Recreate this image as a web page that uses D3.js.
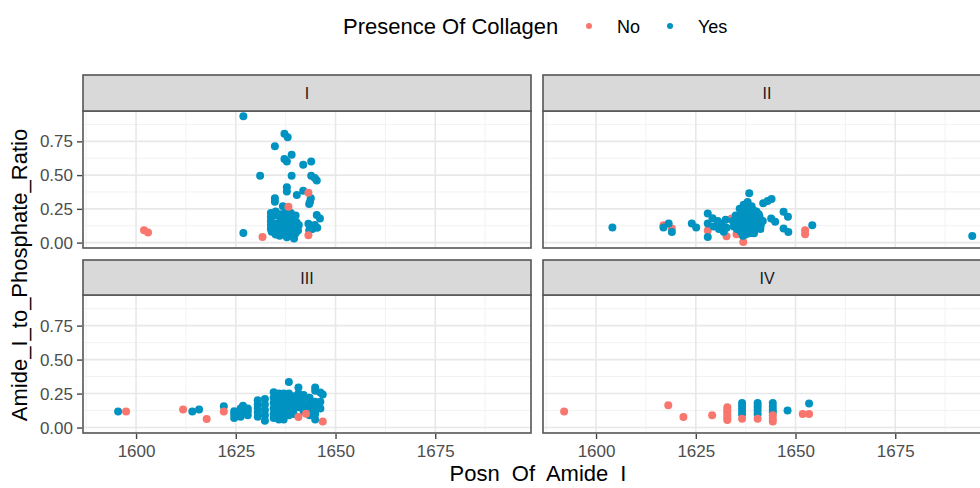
<!DOCTYPE html>
<html>
<head>
<meta charset="utf-8">
<script src="https://cdn.jsdelivr.net/npm/d3@7"></script>
<style>
  body { margin: 0; background: #fff; }
  text { font-family: "Liberation Sans", Arial, sans-serif; }
</style>
</head>
<body>
<div id="chart"></div>
<script>
// facet labels and axis ticks
var facets = ["I", "II", "III", "IV"];
var xTicks = [1600, 1625, 1650, 1675];
var yTicks = [0, 0.25, 0.5, 0.75];
var groups = ["No", "Yes"];

// [Posn Of Amide I, Amide_I_to_Phosphate_Ratio] per facet and collagen group
var noI = [[1602.0, 0.092], [1603.0, 0.075], [1631.7, 0.042], [1643.2, 0.054], [1643.2, 0.37],
  [1638.2, 0.266]];
var yesI = [[1626.9, 0.937], [1626.9, 0.072], [1637.2, 0.806], [1638.0, 0.781], [1634.8, 0.713],
  [1639.0, 0.651], [1637.2, 0.619], [1637.8, 0.601], [1641.9, 0.577], [1643.9, 0.601],
  [1631.1, 0.495], [1639.0, 0.495], [1643.9, 0.495], [1644.8, 0.478], [1645.3, 0.46],
  [1637.8, 0.41], [1637.8, 0.378], [1640.3, 0.353], [1641.9, 0.385], [1643.8, 0.328],
  [1643.6, 0.303], [1643.4, 0.286], [1634.8, 0.328], [1634.8, 0.303], [1636.8, 0.27],
  [1645.3, 0.204], [1646.1, 0.179],
  [1633.8, 0.22], [1633.8, 0.19], [1633.8, 0.16], [1633.8, 0.13], [1633.8, 0.10], [1634.0, 0.08],
  [1635.0, 0.23], [1635.0, 0.2], [1635.2, 0.14], [1635.2, 0.11], [1635.0, 0.06],
  [1636.3, 0.21], [1636.3, 0.17], [1636.5, 0.13], [1636.5, 0.09], [1636.0, 0.05],
  [1637.6, 0.24], [1637.6, 0.2], [1637.8, 0.16], [1637.8, 0.12], [1637.6, 0.08], [1637.8, 0.04],
  [1638.8, 0.22], [1638.8, 0.18], [1639.0, 0.14], [1639.0, 0.1], [1638.8, 0.06],
  [1640.0, 0.2], [1640.2, 0.15], [1640.2, 0.11], [1640.0, 0.07], [1639.6, 0.03],
  [1640.8, 0.13], [1640.6, 0.09],
  [1643.2, 0.14], [1643.6, 0.12], [1644.2, 0.1], [1644.8, 0.13], [1645.4, 0.11], [1643.4, 0.09]];

var noII = [[1616.9, 0.129], [1619.0, 0.104], [1628.0, 0.09], [1632.7, 0.047], [1634.0, 0.179],
  [1635.2, 0.062], [1636.9, 0.005], [1652.4, 0.092], [1652.4, 0.062]];
var yesII = [[1604.1, 0.112], [1618.2, 0.142], [1616.9, 0.112], [1619.0, 0.079], [1624.0, 0.142],
  [1625.1, 0.112], [1628.0, 0.216], [1628.0, 0.142], [1628.0, 0.042],
  [1629.2, 0.18], [1629.5, 0.12], [1630.5, 0.16], [1630.8, 0.1], [1631.5, 0.14], [1632.0, 0.08],
  [1632.5, 0.17], [1632.7, 0.11],
  [1634.5, 0.12], [1635.0, 0.2], [1635.3, 0.1], [1636.0, 0.25], [1636.0, 0.16], [1636.3, 0.08],
  [1637.0, 0.28], [1637.0, 0.21], [1637.2, 0.13], [1637.5, 0.06], [1638.0, 0.3], [1638.0, 0.24],
  [1638.2, 0.18], [1638.2, 0.11], [1638.5, 0.07], [1639.0, 0.27], [1639.2, 0.2], [1639.2, 0.14],
  [1639.5, 0.09], [1640.2, 0.23], [1640.2, 0.16], [1640.5, 0.11], [1641.0, 0.19], [1641.3, 0.13],
  [1641.8, 0.16], [1636.8, 0.05], [1634.3, 0.16],
  [1635.8, 0.19], [1635.6, 0.13], [1636.6, 0.22], [1636.8, 0.1], [1637.4, 0.17], [1637.8, 0.26],
  [1638.6, 0.21], [1638.8, 0.15], [1639.4, 0.24], [1639.8, 0.18], [1640.0, 0.12], [1640.8, 0.21],
  [1641.2, 0.1], [1637.2, 0.235], [1638.4, 0.09], [1639.6, 0.07], [1636.4, 0.14],
  [1638.4, 0.366], [1641.9, 0.291], [1643.0, 0.308], [1644.0, 0.323], [1647.0, 0.228],
  [1648.1, 0.191], [1643.9, 0.179], [1644.9, 0.154], [1647.0, 0.104], [1648.2, 0.079],
  [1654.2, 0.129], [1694.3, 0.049]];

var noIII = [[1597.5, 0.119], [1611.8, 0.132], [1617.7, 0.063], [1622.0, 0.119], [1640.7, 0.078],
  [1642.6, 0.102], [1646.8, 0.045]];
var yesIII = [[1595.5, 0.119], [1614.1, 0.119], [1615.8, 0.132], [1622.0, 0.157],
  [1624.6, 0.07], [1624.6, 0.1], [1624.6, 0.12],
  [1626.2, 0.08], [1626.2, 0.11], [1626.2, 0.14], [1626.8, 0.16],
  [1628.0, 0.09], [1628.0, 0.12], [1628.0, 0.14],
  [1630.5, 0.08], [1630.5, 0.11], [1630.5, 0.14], [1630.5, 0.17], [1630.5, 0.2],
  [1632.3, 0.05], [1632.3, 0.09], [1632.3, 0.13], [1632.3, 0.17], [1632.3, 0.21],
  [1634.5, 0.07], [1634.5, 0.1], [1634.5, 0.14], [1634.5, 0.18], [1634.5, 0.22], [1634.5, 0.26],
  [1635.8, 0.06], [1635.8, 0.1], [1635.8, 0.13], [1635.8, 0.17], [1635.8, 0.21], [1635.8, 0.25],
  [1637.0, 0.06], [1637.0, 0.1], [1637.0, 0.14], [1637.0, 0.18], [1637.0, 0.22], [1637.0, 0.25],
  [1638.3, 0.09], [1638.3, 0.13], [1638.3, 0.17], [1638.3, 0.21], [1638.3, 0.25], [1638.3, 0.336],
  [1639.5, 0.1], [1639.5, 0.14], [1639.5, 0.19], [1639.5, 0.23],
  [1640.7, 0.15], [1640.7, 0.2], [1640.7, 0.25], [1640.7, 0.294],
  [1642.0, 0.12], [1642.0, 0.16], [1642.0, 0.21], [1642.0, 0.24],
  [1643.5, 0.09], [1643.5, 0.13], [1643.5, 0.17], [1643.5, 0.22],
  [1644.9, 0.06], [1644.9, 0.1], [1644.9, 0.14], [1644.9, 0.19], [1644.9, 0.27], [1644.9, 0.294],
  [1646.2, 0.14], [1646.2, 0.19], [1646.2, 0.257], [1646.8, 0.244]];

var noIV = [[1592.0, 0.119], [1618.1, 0.164], [1621.9, 0.078], [1629.1, 0.09],
  [1632.9, 0.15], [1632.9, 0.13], [1632.9, 0.11], [1632.9, 0.09], [1632.9, 0.07], [1632.9, 0.055],
  [1636.6, 0.065], [1640.5, 0.065], [1644.3, 0.09], [1644.3, 0.065], [1644.3, 0.045],
  [1651.8, 0.1], [1653.4, 0.1]];
var yesIV = [[1636.6, 0.18], [1636.6, 0.155], [1636.6, 0.13], [1636.6, 0.1],
  [1640.5, 0.18], [1640.5, 0.155], [1640.5, 0.13], [1640.5, 0.1],
  [1644.3, 0.18], [1644.3, 0.155], [1644.3, 0.13], [1644.3, 0.11],
  [1648.0, 0.125], [1653.4, 0.177]];

var panelData = {
  I: { No: noI, Yes: yesI },
  II: { No: noII, Yes: yesII },
  III: { No: noIII, Yes: yesIII },
  IV: { No: noIV, Yes: yesIV }
};

// drawing order of the groups in each facet (last one ends up on top)
var drawOrder = {
  I: ["Yes", "No"],
  II: ["No", "Yes"],
  III: ["Yes", "No"],
  IV: ["Yes", "No"]
};

var width = 980, height = 488;
var colLeft = [83, 543];
var panelW = 448;
var rowStrip = [75, 260];
var rowTop = [111, 295];
var rowBottom = [248, 433];

var color = d3.scaleOrdinal().domain(groups).range(["#F8766D", "#0092C0"]);

var svg = d3.select("#chart").append("svg")
  .attr("width", width)
  .attr("height", height);

facets.forEach(function(f, i) {
  var col = i % 2, row = Math.floor(i / 2);
  var x = d3.scaleLinear().domain([1586.7, 1699]).range([colLeft[col], colLeft[col] + panelW]);
  var y = d3.scaleLinear().domain([-0.04, 0.975]).range([rowBottom[row], rowTop[row]]);

  var g = svg.append("g");

  // grid
  var minorX = [1587.5, 1612.5, 1637.5, 1662.5, 1687.5];
  var minorY = [0.125, 0.375, 0.625, 0.875];
  g.selectAll(".gxm").data(minorX).enter().append("line")
    .attr("x1", d => x(d)).attr("x2", d => x(d))
    .attr("y1", rowTop[row]).attr("y2", rowBottom[row])
    .attr("stroke", "#F2F2F2").attr("stroke-width", 1);
  g.selectAll(".gym").data(minorY).enter().append("line")
    .attr("x1", colLeft[col]).attr("x2", colLeft[col] + panelW)
    .attr("y1", d => y(d)).attr("y2", d => y(d))
    .attr("stroke", "#F2F2F2").attr("stroke-width", 1);
  g.selectAll(".gx").data(xTicks).enter().append("line")
    .attr("x1", d => x(d)).attr("x2", d => x(d))
    .attr("y1", rowTop[row]).attr("y2", rowBottom[row])
    .attr("stroke", "#E8E8E8").attr("stroke-width", 1.6);
  g.selectAll(".gy").data(yTicks).enter().append("line")
    .attr("x1", colLeft[col]).attr("x2", colLeft[col] + panelW)
    .attr("y1", d => y(d)).attr("y2", d => y(d))
    .attr("stroke", "#E8E8E8").attr("stroke-width", 1.6);

  // points
  drawOrder[f].forEach(function(grp) {
    g.selectAll(".pt" + grp).data(panelData[f][grp]).enter().append("circle")
      .attr("cx", d => x(d[0]))
      .attr("cy", d => y(d[1]))
      .attr("r", 4)
      .attr("fill", color(grp));
  });

  // panel border
  g.append("rect")
    .attr("x", colLeft[col]).attr("y", rowTop[row])
    .attr("width", panelW).attr("height", rowBottom[row] - rowTop[row])
    .attr("fill", "none").attr("stroke", "#555").attr("stroke-width", 1.6);

  // strip
  g.append("rect")
    .attr("x", colLeft[col]).attr("y", rowStrip[row])
    .attr("width", panelW).attr("height", rowTop[row] - rowStrip[row])
    .attr("fill", "#D9D9D9").attr("stroke", "#555").attr("stroke-width", 1.6);
  g.append("text")
    .attr("x", colLeft[col] + panelW / 2)
    .attr("y", (rowStrip[row] + rowTop[row]) / 2 + 6)
    .attr("text-anchor", "middle")
    .attr("font-size", 16)
    .attr("fill", "#1a1a1a")
    .text(f);

  // axes
  if (col === 0) {
    var ya = svg.append("g")
      .attr("transform", "translate(" + (colLeft[col] - 1) + ",0)")
      .call(d3.axisLeft(y).tickValues(yTicks).tickFormat(d3.format(".2f")).tickSize(5).tickPadding(4));
    ya.select(".domain").remove();
    ya.selectAll("line").attr("stroke", "#444").attr("stroke-width", 1.4);
    ya.selectAll("text").attr("font-size", 17).attr("fill", "#4D4D4D")
      .style("font-family", "Liberation Sans, Arial, sans-serif");
  }
  if (row === 1) {
    var xa = svg.append("g")
      .attr("transform", "translate(0," + (rowBottom[row] + 1) + ")")
      .call(d3.axisBottom(x).tickValues(xTicks).tickFormat(d3.format("d")).tickSize(5).tickPadding(6));
    xa.select(".domain").remove();
    xa.selectAll("line").attr("stroke", "#444").attr("stroke-width", 1.4);
    xa.selectAll("text").attr("font-size", 17).attr("fill", "#4D4D4D")
      .style("font-family", "Liberation Sans, Arial, sans-serif");
  }
});

// axis titles
svg.append("text")
  .attr("x", 538).attr("y", 481)
  .attr("text-anchor", "middle")
  .attr("font-size", 22)
  .attr("word-spacing", 6)
  .attr("fill", "#000")
  .text("Posn Of Amide I");

svg.append("text")
  .attr("transform", "translate(27,275) rotate(-90)")
  .attr("text-anchor", "middle")
  .attr("font-size", 22)
  .attr("fill", "#000")
  .text("Amide_I_to_Phosphate_Ratio");

// legend
var legend = svg.append("g");
legend.append("text")
  .attr("x", 343).attr("y", 34)
  .attr("font-size", 22)
  .attr("fill", "#000")
  .text("Presence Of Collagen");
var legX = [589, 670];
groups.forEach(function(grp, i) {
  legend.append("circle")
    .attr("cx", legX[i]).attr("cy", 26)
    .attr("r", 3)
    .attr("fill", color(grp));
  legend.append("text")
    .attr("x", legX[i] + 28).attr("y", 33)
    .attr("font-size", 18)
    .attr("fill", "#000")
    .text(grp);
});
</script>
</body>
</html>
